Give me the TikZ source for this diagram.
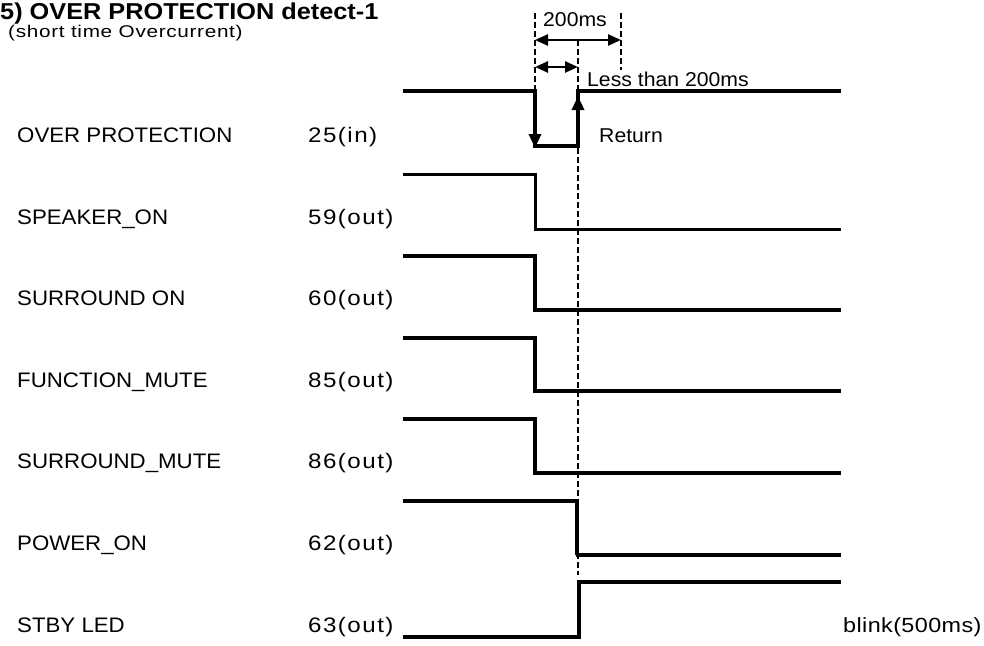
\documentclass[tikz,border=0pt]{standalone}
\usepackage{fontspec}
\setmainfont{Liberation Sans}
\newfontfamily\labfont[FakeStretch=1.06]{Liberation Sans}
\newfontfamily\pinfont[FakeStretch=1.15,LetterSpace=7]{Liberation Sans}
\newfontfamily\subfont[FakeStretch=1.22,LetterSpace=4]{Liberation Sans}
\newfontfamily\blinkfont[FakeStretch=1.14,LetterSpace=2]{Liberation Sans}
\newfontfamily\ttlfont[FakeStretch=1.1]{Liberation Sans}
\usetikzlibrary{arrows.meta}
\tikzset{
  lab/.style={anchor=base west,inner sep=0pt,font=\labfont\fontsize{21}{24}\selectfont},
  pin/.style={anchor=base west,inner sep=0pt,font=\pinfont\fontsize{21}{24}\selectfont},
  note/.style={anchor=base west,inner sep=0pt,font=\labfont\fontsize{20}{24}\selectfont},
  wave/.style={line width=3.2pt,line join=miter},
  thickwave/.style={line width=4.4pt},
  guide/.style={line width=2pt,dash pattern=on 6pt off 3pt},
  dim/.style={line width=2.5pt,{Triangle[length=13pt,width=11pt]}-{Triangle[length=13pt,width=11pt]}},
  evt/.style={line width=3.2pt,-{Triangle[length=14pt,width=12pt]}}
}
\begin{document}
\begin{tikzpicture}[x=1pt,y=-1pt]
\useasboundingbox (0,0) rectangle (984,645);
% title
\node[anchor=base west,inner sep=0pt,font=\ttlfont\bfseries\fontsize{23}{26}\selectfont] (title) at (0,19) {5) OVER PROTECTION detect-1};
\node[anchor=base west,inner sep=0pt,font=\subfont\fontsize{17}{20}\selectfont] (subtitle) at (8,37) {(short time Overcurrent)};
% labels
\foreach \t/\p/\y [count=\i] in {OVER PROTECTION/25(in)/142, SPEAKER\_ON/59(out)/224, SURROUND ON/60(out)/305, FUNCTION\_MUTE/85(out)/387, SURROUND\_MUTE/86(out)/468, POWER\_ON/62(out)/550, STBY LED/63(out)/632}{
  \node[lab] (name\i) at (17,\y) {\t};
  \node[pin] (pin\i) at (308,\y) {\p};
}
\node[anchor=base west,inner sep=0pt,font=\blinkfont\fontsize{20.5}{24}\selectfont] (blink) at (843,632) {blink(500ms)};
% guide coordinates
\coordinate (gA1) at (535,13);
\coordinate (gA2) at (535,91);
\coordinate (gB1) at (578,40);
\coordinate (gB2) at (578,575);
\coordinate (gC1) at (621,13);
\coordinate (gC2) at (621,70);
\draw[guide] (gA1) -- (gA2);
\draw[guide] (gB1) -- (gB2);
\draw[guide] (gC1) -- (gC2);
% dimension arrows
\coordinate (d1a) at (535,40); \coordinate (d1b) at (621,40);
\coordinate (d2a) at (535,67); \coordinate (d2b) at (578,67);
\draw[dim] (d1a) -- (d1b);
\draw[dim] (d2a) -- (d2b);
\node[note] (t200) at (543,26) {200ms};
\node[note] (tless) at (587,86) {Less than 200ms};
\node[note] (tret) at (599,142) {Return};
% OVER PROTECTION waveform
\draw[wave] (403,91) -- (535,91) -- (535,146) -- (578,146) -- (578,91) -- (841,91);
\coordinate (ev1a) at (535,115); \coordinate (ev1b) at (535,148);
\coordinate (ev2a) at (578,130); \coordinate (ev2b) at (578,96);
\draw[evt] (ev1a) -- (ev1b);
\draw[evt] (ev2a) -- (ev2b);
% SPEAKER_ON
\draw[line width=3pt] (403,174) -- (535,174) -- (535,229) -- (841,229);
% SURROUND ON
\draw[thickwave] (403,256) -- (535,256);
\draw[wave] (535,254) -- (535,310) -- (841,310);
% FUNCTION_MUTE
\draw[thickwave] (403,338) -- (535,338);
\draw[wave] (535,336) -- (535,391) -- (841,391);
% SURROUND_MUTE
\draw[thickwave] (403,419) -- (535,419);
\draw[wave] (535,417) -- (535,473) -- (841,473);
% POWER_ON
\draw[wave] (403,501) -- (577,501) -- (577,555);
\draw[thickwave] (575.5,555) -- (841,555);
% STBY LED
\draw[thickwave] (403,637) -- (579,637) -- (579,582) -- (841,582);
\end{tikzpicture}
\end{document}
